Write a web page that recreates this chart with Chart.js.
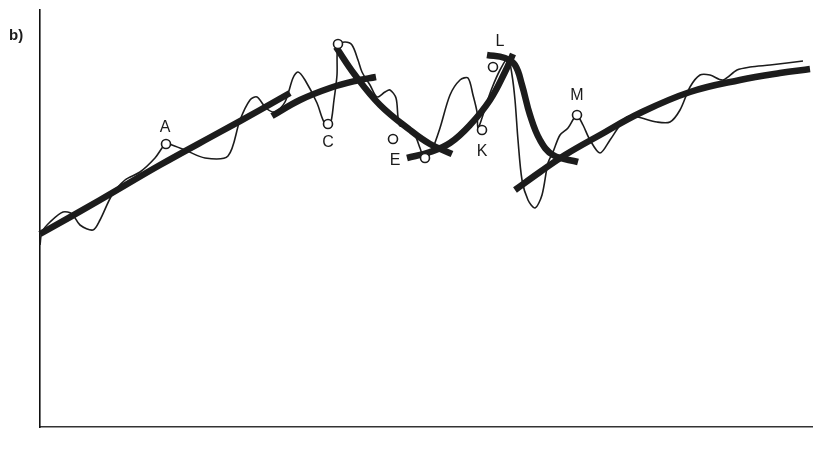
<!DOCTYPE html>
<html>
<head>
<meta charset="utf-8">
<script src="https://cdn.jsdelivr.net/npm/chart.js@4/dist/chart.umd.min.js"></script>
<style>
  html, body { margin: 0; padding: 0; background: #fff; overflow: hidden; }
  #wrap { width: 813px; height: 453px; }
  canvas { display: block; }
</style>
</head>
<body>
<div id="wrap"><canvas id="c" width="813" height="453"></canvas></div>
<script>
// Price path (thin line): time and level
const priceX = [0, 2, 10, 23, 32, 40, 53, 60, 72, 85, 100, 115, 122, 126, 132, 145, 165, 188, 200, 210, 217, 226, 235, 245, 253, 258, 265, 277, 284, 290, 294, 297, 298, 305, 312, 318, 322, 330, 337, 345, 350, 356, 358, 360, 368, 375, 380, 385, 392, 400, 410, 420, 428, 433, 437, 438, 442, 446, 452, 460, 468, 472, 475, 478, 482, 488, 495, 502, 508, 513, 520, 528, 534, 537, 543, 550, 560, 570, 578, 587, 597, 617, 630, 640, 650, 660, 670, 683, 697, 710, 730, 747, 763];
const priceY = [182, 195, 205, 215, 213, 202, 197, 207, 232, 247, 255, 269, 279, 284, 282, 277, 269, 271, 307, 327, 330, 319, 315, 325, 349, 355, 347, 324, 305, 302, 327, 352, 382, 385, 382, 367, 355, 342, 330, 335, 337, 329, 310, 301, 301, 292, 279, 267, 277, 299, 332, 347, 349, 332, 315, 299, 309, 322, 339, 357, 369, 352, 327, 287, 247, 227, 219, 232, 264, 275, 292, 299, 309, 312, 302, 287, 274, 287, 299, 310, 310, 305, 305, 317, 340, 352, 352, 347, 357, 360, 362, 364, 366];

// Trend curves (thick strokes)
const trend1X = [0, 60, 120, 180, 220, 250];
const trend1Y = [193, 227, 262, 295, 317, 334];
const trend2X = [232, 260, 290, 315, 336];
const trend2Y = [311, 327, 339, 346, 350];
const trend3X = [296, 315, 340, 370, 390, 412];
const trend3Y = [380, 352, 322, 297, 283, 273];
const trend4X = [367, 390, 410, 430, 450, 465, 473];
const trend4Y = [269, 275, 284, 302, 327, 355, 373];
const trend5X = [447, 465, 475, 482, 490, 500, 513, 538];
const trend5Y = [372, 369, 362, 342, 312, 287, 272, 265];
const trend6X = [475, 500, 525, 560, 600, 650, 700, 740, 770];
const trend6Y = [237, 255, 272, 292, 314, 335, 347, 354, 358];

// Turning points and their letters
const pivotX = [126, 288, 298, 353, 385, 442, 453, 537];
const pivotY = [283, 303, 383, 288, 269, 297, 360, 312];
const tagText = ['A', 'C', 'E', 'K', 'L', 'M'];
const tagX = [125, 288, 355, 442, 460, 537];
const tagY = [299, 284, 266, 275, 385, 331];

const pts = (xs, ys) => xs.map((x, i) => ({ x: x, y: ys[i] }));

const ink = '#1c1c1c';
const thick = (xs, ys) => ({
  data: pts(xs, ys),
  showLine: true,
  borderColor: ink,
  borderWidth: 6.5,
  borderCapStyle: 'butt',
  tension: 0.4,
  pointRadius: 0,
  clip: false,
  order: 2
});

const letters = {
  id: 'letters',
  afterDatasetsDraw(chart) {
    const { ctx, scales: { x, y } } = chart;
    ctx.save();
    ctx.fillStyle = ink;
    ctx.font = '16px "Liberation Sans", Arial, sans-serif';
    ctx.textAlign = 'center';
    ctx.textBaseline = 'middle';
    tagText.forEach((t, i) => {
      ctx.fillText(t, x.getPixelForValue(tagX[i]), y.getPixelForValue(tagY[i]));
    });
    ctx.textAlign = 'left';
    ctx.font = 'bold 15px "Liberation Sans", Arial, sans-serif';
    ctx.fillText('b)', 9, 36);
    ctx.restore();
  }
};

new Chart(document.getElementById('c'), {
  type: 'scatter',
  data: {
    datasets: [
      thick(trend1X, trend1Y),
      thick(trend2X, trend2Y),
      thick(trend3X, trend3Y),
      thick(trend4X, trend4Y),
      thick(trend5X, trend5Y),
      thick(trend6X, trend6Y),
      {
        data: pts(priceX, priceY),
        showLine: true,
        borderColor: ink,
        borderWidth: 1.6,
        tension: 0.3,
        pointRadius: 0,
        clip: false,
        order: 1
      },
      {
        data: pts(pivotX, pivotY),
        showLine: false,
        pointRadius: 4.5,
        pointBackgroundColor: '#fff',
        pointBorderColor: ink,
        pointBorderWidth: 1.6,
        clip: false,
        order: 0
      }
    ]
  },
  options: {
    responsive: false,
    animation: false,
    devicePixelRatio: 1,
    layout: { autoPadding: false, padding: { left: 40, top: 10, right: 0, bottom: 26 } },
    plugins: { legend: { display: false }, tooltip: { enabled: false } },
    scales: {
      x: {
        type: 'linear', min: 0, max: 773,
        grid: { display: false, drawTicks: false },
        ticks: { display: false },
        border: { display: true, color: '#333', width: 1.5 }
      },
      y: {
        type: 'linear', min: 0, max: 417,
        grid: { display: false, drawTicks: false },
        ticks: { display: false },
        border: { display: true, color: '#111', width: 1.6 }
      }
    }
  },
  plugins: [letters]
});
</script>
</body>
</html>
